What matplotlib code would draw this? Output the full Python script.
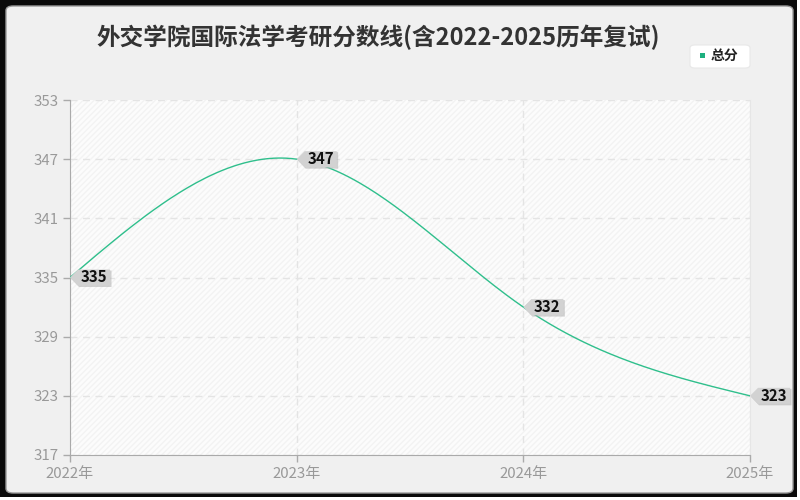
import matplotlib
matplotlib.use("Agg")
import matplotlib.pyplot as plt
import matplotlib.transforms as mtransforms
from matplotlib.patches import Polygon, Rectangle, FancyBboxPatch
import numpy as np

plt.rcParams['font.family'] = ['Noto Sans CJK SC', 'DejaVu Sans']

years = [2022, 2023, 2024, 2025]
year_labels = ['2022年', '2023年', '2024年', '2025年']
scores = [335, 347, 332, 323]
yticks = [317, 323, 329, 335, 341, 347, 353]
title = '外交学院国际法学考研分数线(含2022-2025历年复试)'
series_name = '总分'

line_color = '#2fbf8c'
bg = '#f0f0f0'

W, H = 800, 500
fig = plt.figure(figsize=(8, 5), dpi=100)
fig.patch.set_facecolor('white')


def px(x0, y0, w, h):
    # pixel box (top-left origin) -> figure fraction
    return (x0 / W, 1 - (y0 + h) / H, w / W, h / H)


bx = px(0, 0, 797, 497)
fig.patches.append(Rectangle(bx[:2], bx[2], bx[3], transform=fig.transFigure,
                             facecolor='#0a0a0a', edgecolor='none', zorder=-20))
fx = px(6, 6, 787, 487)
frame = FancyBboxPatch(fx[:2], fx[2], fx[3], boxstyle='round,pad=0,rounding_size=0.009',
                       transform=fig.transFigure, facecolor=bg, edgecolor='#9a9a9a',
                       linewidth=1.0, zorder=-10)
fig.patches.append(frame)

ax = fig.add_axes([70 / W, 45 / H, 680 / W, 355 / H])
ax.set_facecolor('white')
ax.set_xlim(years[0], years[-1])
ax.set_ylim(yticks[0], yticks[-1])

hatch = Rectangle((0, 0), 1, 1, transform=ax.transAxes, facecolor='#fcfcfc',
                  edgecolor='#f3f3f3', hatch='//////', linewidth=0, zorder=0)
ax.add_patch(hatch)

ax.set_yticks(yticks)
ax.set_xticks(years)
ax.set_xticklabels(year_labels)
ax.tick_params(axis='both', colors='#aaaaaa', labelsize=10.8, length=5, width=1)
for lab in ax.get_yticklabels() + ax.get_xticklabels():
    lab.set_color('#999999')
ax.grid(True, color='#e4e4e4', linestyle=(0, (5, 4)), linewidth=1)
ax.set_axisbelow(True)
ax.spines['top'].set_visible(False)
ax.spines['right'].set_color('#e6e6e6')
ax.spines['left'].set_color('#aaaaaa')
ax.spines['bottom'].set_color('#aaaaaa')

# natural cubic spline through the points (for drawing the smooth line)
xs = np.array(years, dtype=float)
ys = np.array(scores, dtype=float)
n = len(xs)
h = np.diff(xs)
A = np.zeros((n, n))
r = np.zeros(n)
A[0, 0] = 1
A[-1, -1] = 1
for i in range(1, n - 1):
    A[i, i - 1] = h[i - 1]
    A[i, i] = 2 * (h[i - 1] + h[i])
    A[i, i + 1] = h[i]
    r[i] = 6 * ((ys[i + 1] - ys[i]) / h[i] - (ys[i] - ys[i - 1]) / h[i - 1])
M = np.linalg.solve(A, r)
cx, cy = [], []
for i in range(n - 1):
    t = np.linspace(xs[i], xs[i + 1], 80)
    a = xs[i + 1] - t
    b = t - xs[i]
    s = (M[i] * a ** 3 + M[i + 1] * b ** 3) / (6 * h[i]) \
        + (ys[i] / h[i] - M[i] * h[i] / 6) * a + (ys[i + 1] / h[i] - M[i + 1] * h[i] / 6) * b
    cx.append(t)
    cy.append(s)
ax.plot(np.concatenate(cx), np.concatenate(cy), color=line_color, linewidth=1.0, zorder=3)

# value labels
for x, y in zip(years, scores):
    base = mtransforms.IdentityTransform() + mtransforms.ScaledTranslation(x, y, ax.transData)
    hh = 8
    w = 40
    shadow = Polygon([(1, -1), (9, hh - 1), (w + 1.5, hh - 1), (w + 1.5, -hh - 1.5), (9, -hh - 1.5)],
                     closed=True, transform=base, facecolor='#b5b5b5', edgecolor='none',
                     zorder=4, clip_on=False, alpha=0.6)
    poly = Polygon([(0, 0), (8, hh), (w, hh), (w, -hh), (8, -hh)], closed=True,
                   transform=base, facecolor='#d2d2d2', edgecolor='none', zorder=5, clip_on=False)
    ax.add_patch(shadow)
    ax.add_patch(poly)
    ax.annotate(str(y), xy=(x, y), xytext=(24, 0), textcoords='offset pixels',
                ha='center', va='center', fontsize=10.8, fontweight='bold', color='#111111',
                zorder=6, annotation_clip=False)

fig.text(378 / W, 1 - 37 / H, title, ha='center', va='center', fontsize=17,
         fontweight='bold', color='#333333')

# legend
lb = px(690, 45, 60, 23)
leg = FancyBboxPatch(lb[:2], lb[2], lb[3],
                     boxstyle='round,pad=0,rounding_size=0.006', transform=fig.transFigure,
                     facecolor='white', edgecolor='#e8e8e8', linewidth=0.8)
fig.patches.append(leg)
mk = px(700, 53, 5, 5)
fig.patches.append(Rectangle(mk[:2], mk[2], mk[3], transform=fig.transFigure,
                             facecolor='#1db07f', edgecolor='none'))
fig.text(711 / W, 1 - 55.5 / H, series_name, ha='left', va='center', fontsize=10,
         fontweight='bold', color='#222222')

fig.savefig('out.png', dpi=100, facecolor=fig.get_facecolor())
